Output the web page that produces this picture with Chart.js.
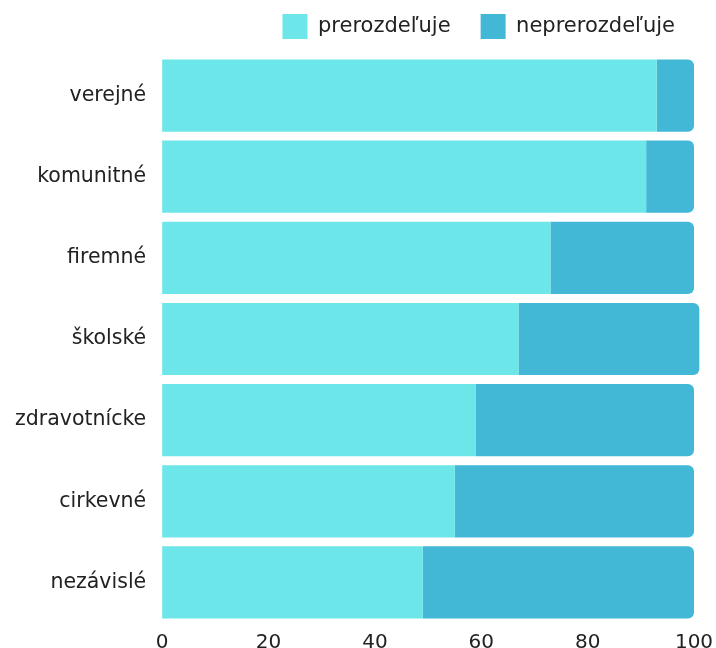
<!DOCTYPE html>
<html>
<head>
<meta charset="utf-8">
<script src="https://cdn.jsdelivr.net/npm/chart.js@4"></script>
<style>
  html, body { margin: 0; padding: 0; background: #fff; }
  #wrap { width: 716px; height: 648px; }
</style>
</head>
<body>
<div id="wrap"><canvas id="bars"></canvas></div>
<script>
var categories = ['verejné', 'komunitné', 'firemné', 'školské', 'zdravotnícke', 'cirkevné', 'nezávislé'];
var prerozdeluje = [93, 91, 73, 67, 59, 55, 49];
var neprerozdeluje = [7, 9, 27, 34, 41, 45, 51];
var xTicks = [0, 20, 40, 60, 80, 100];

Chart.defaults.font.family = '"DejaVu Sans", sans-serif';
Chart.defaults.font.size = 20;
Chart.defaults.color = '#222';

// legend needs wide gaps between items, but a short block height
var legendFix = {
    id: 'legendFix',
    beforeInit: function (chart) {
        var lg = chart.legend;
        var fit = lg.fit;
        lg.fit = function () {
            fit.call(lg);
            lg.height = 55;
        };
        var draw = lg.draw;
        lg.draw = function () {
            var c = chart.ctx;
            c.save();
            c.translate(11, -16);
            draw.apply(lg, arguments);
            c.restore();
        };
    }
};

var ctx = document.getElementById('bars').getContext('2d');
var myChart = new Chart(ctx, {
    type: 'bar',
    data: {
        labels: categories,
        datasets: [{
            label: 'prerozdeľuje',
            data: prerozdeluje,
            backgroundColor: '#6ce6e8',
            borderRadius: 0,
            clip: false
        }, {
            label: 'neprerozdeľuje',
            data: neprerozdeluje,
            backgroundColor: '#42b8d6',
            borderRadius: 6,
            clip: false
        }]
    },
    options: {
        indexAxis: 'y',
        responsive: true,
        maintainAspectRatio: false,
        animation: false,
        datasets: {
            bar: { categoryPercentage: 1, barPercentage: 0.89 }
        },
        layout: { padding: { top: 0, left: 7, right: 22, bottom: -7 } },
        plugins: {
            legend: {
                align: 'end',
                labels: {
                    boxWidth: 25,
                    boxHeight: 25,
                    padding: 30,
                    font: { size: 21 }
                }
            },
            tooltip: { enabled: false }
        },
        scales: {
            x: {
                stacked: true,
                min: 0,
                max: 100,
                afterBuildTicks: function (axis) {
                    axis.ticks = xTicks.map(function (v) { return { value: v }; });
                },
                grid: { display: false },
                border: { display: false },
                ticks: { padding: 0 }
            },
            y: {
                stacked: true,
                grid: { display: false },
                border: { display: false },
                ticks: { padding: 8, font: { size: 20.5 } }
            }
        }
    },
    plugins: [legendFix]
});
</script>
</body>
</html>
